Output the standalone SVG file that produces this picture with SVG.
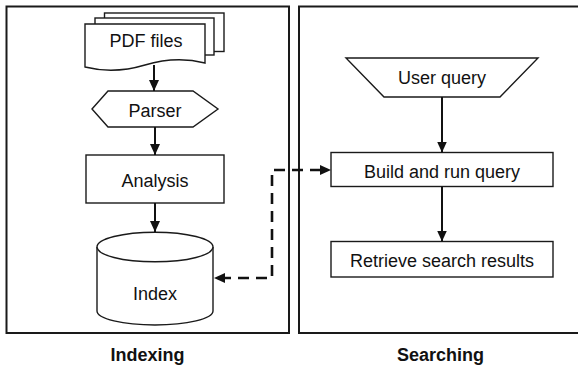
<svg xmlns="http://www.w3.org/2000/svg" width="578" height="367" viewBox="0 0 578 367">
<style>
.panel{fill:none;stroke:#1a1a1a;stroke-width:2}
.shape{fill:#fff;stroke:#1a1a1a;stroke-width:1.4}
.lbl{font-family:"Liberation Sans",Arial,Helvetica,sans-serif;font-size:18px;fill:#111;text-anchor:middle}
.title{font-weight:bold}
.arrow{fill:none;stroke:#111;stroke-width:2}
.dash{fill:none;stroke:#111;stroke-width:2.6;stroke-dasharray:11 7}
</style>
<defs>
<marker id="ah" markerUnits="userSpaceOnUse" markerWidth="11" markerHeight="10" refX="11" refY="5" orient="auto">
<path d="M0,0 L11,5 L0,10 Z" fill="#111"/>
</marker>
<marker id="ahs" markerUnits="userSpaceOnUse" markerWidth="11" markerHeight="10" refX="0" refY="5" orient="auto">
<path d="M11,0 L0,5 L11,10 Z" fill="#111"/>
</marker>
</defs>

<g id="panel-indexing">
<rect class="panel" x="6.5" y="6.5" width="282.5" height="326.5"/>
<text class="lbl title" x="147.5" y="361">Indexing</text>
</g>
<g id="panel-searching">
<rect class="panel" x="299" y="6.5" width="285" height="326.5"/>
<text class="lbl title" x="440.5" y="361">Searching</text>
</g>

<g id="pdf-files">
<rect class="shape" x="104.5" y="13" width="119.5" height="38.5"/>
<rect class="shape" x="95" y="18" width="119" height="37"/>
<path class="shape" d="M85,24 H205 V63 C185,58 165,59 145,65 C125,71 105,72 85,67 Z"/>
<text class="lbl" x="146" y="47">PDF files</text>
</g>

<g id="parser">
<polygon class="shape" points="92,109 108,91 193,91 218,109 193,127 108,127"/>
<text class="lbl" x="155" y="117">Parser</text>
</g>

<g id="analysis">
<rect class="shape" x="86" y="155" width="138" height="48"/>
<text class="lbl" x="155" y="186.5">Analysis</text>
</g>

<g id="index">
<path class="shape" d="M97,247 V311 A58,14 0 0 0 213,311 V247"/>
<ellipse class="shape" cx="155" cy="247" rx="58" ry="14.8"/>
<text class="lbl" x="155" y="300">Index</text>
</g>

<g id="user-query">
<polygon class="shape" points="346,58 538,58 500,97 384,97"/>
<text class="lbl" x="442" y="84">User query</text>
</g>

<g id="build-query">
<rect class="shape" x="331" y="152.5" width="222" height="34"/>
<text class="lbl" x="442" y="178">Build and run query</text>
</g>

<g id="retrieve">
<rect class="shape" x="331" y="241.5" width="222" height="35.5"/>
<text class="lbl" x="442" y="267">Retrieve search results</text>
</g>

<g id="connectors">
<line class="arrow" x1="154" y1="65" x2="154" y2="91" marker-end="url(#ah)"/>
<line class="arrow" x1="155" y1="127" x2="155" y2="155" marker-end="url(#ah)"/>
<line class="arrow" x1="155" y1="203" x2="155" y2="232" marker-end="url(#ah)"/>
<line class="arrow" x1="442" y1="97" x2="442" y2="152.5" marker-end="url(#ah)"/>
<line class="arrow" x1="442" y1="186.5" x2="442" y2="241.5" marker-end="url(#ah)"/>
<path class="dash" d="M321,170 H272 V278 H224"/>
<path d="M331,170 L320,165 L320,175 Z" fill="#111"/>
<path d="M214,278 L225,273 L225,283 Z" fill="#111"/>
</g>
</svg>
